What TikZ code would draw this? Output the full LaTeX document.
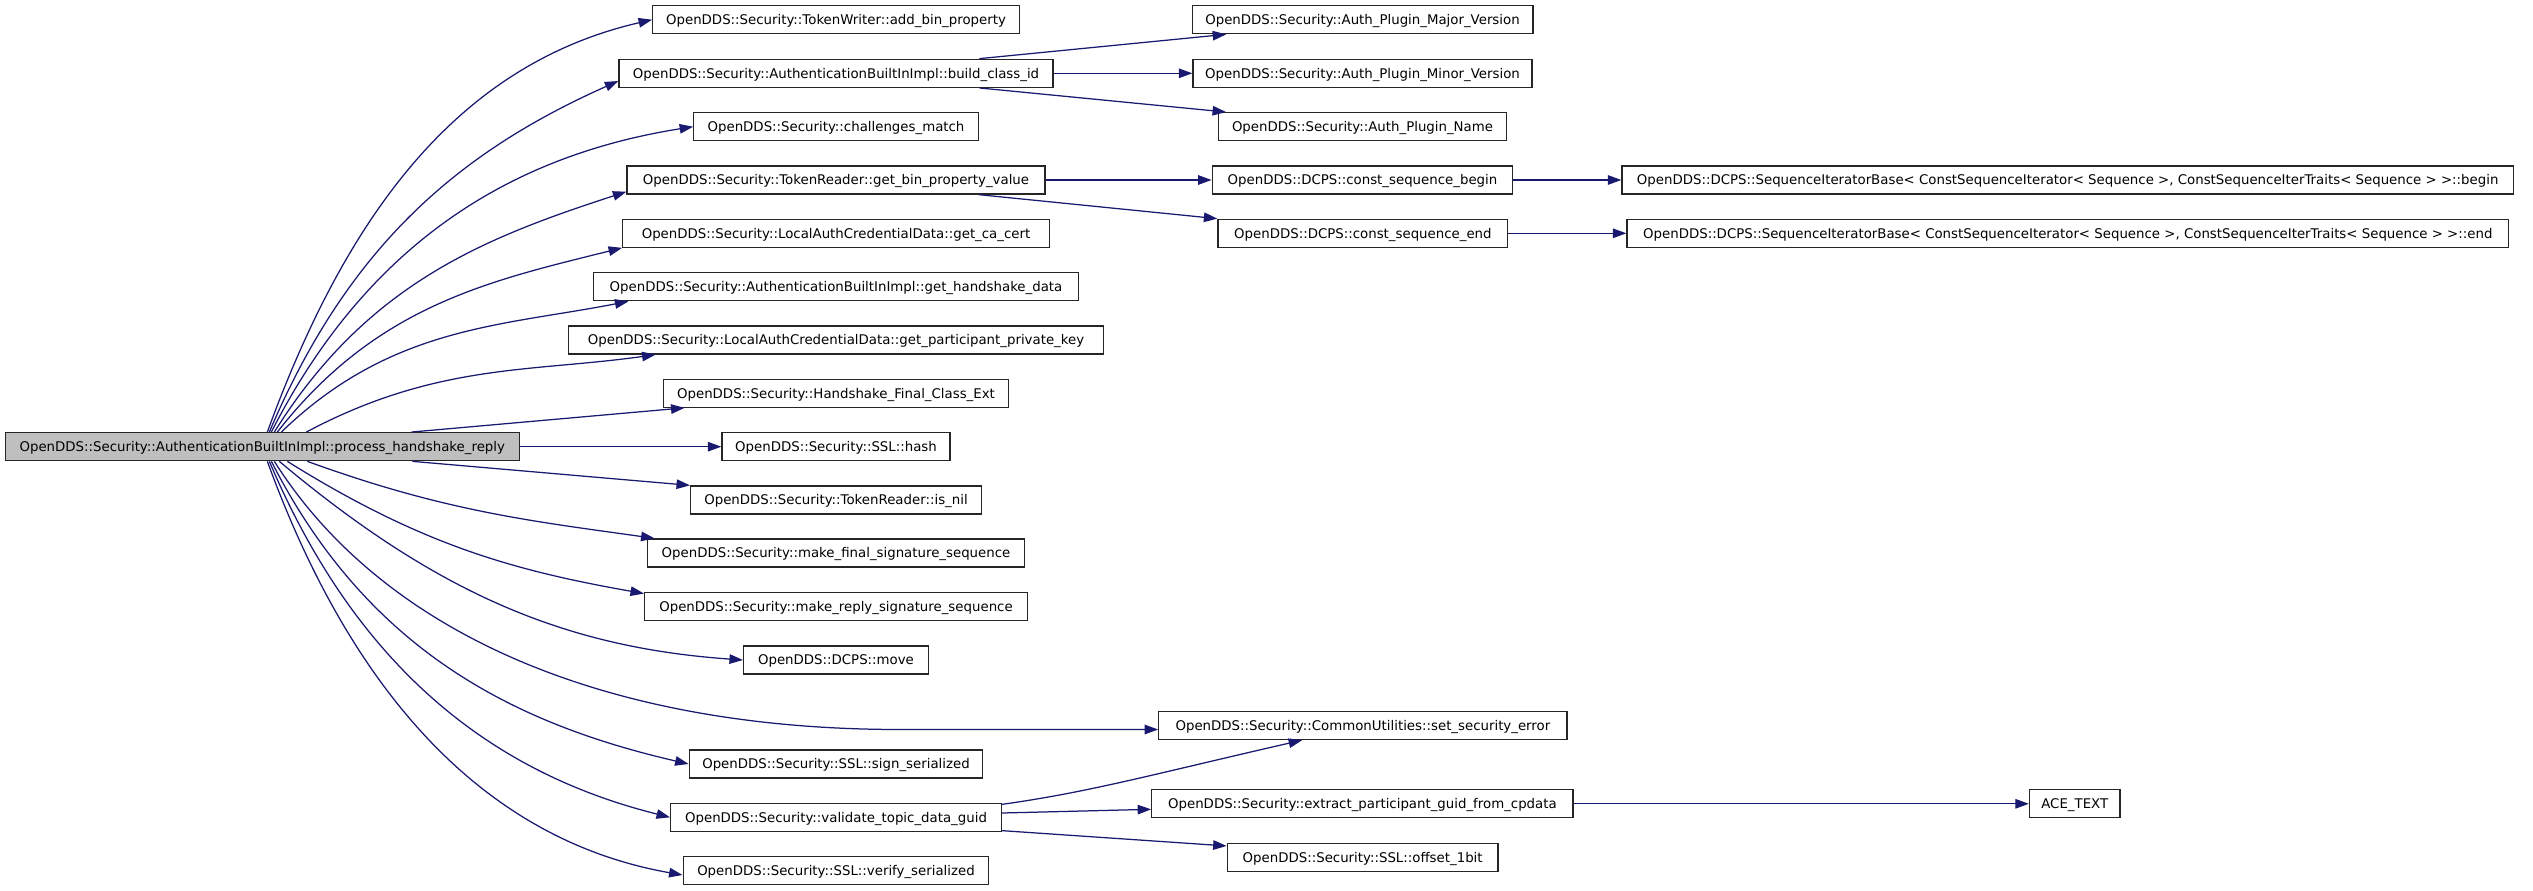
\documentclass[tikz,border=0pt]{standalone}
\usepackage{fontspec}
\setmainfont{DejaVu Sans}
\usetikzlibrary{arrows.meta,calc}
\definecolor{edgeblue}{HTML}{191970}
\tikzset{
  box/.style={draw=black!85, line width=1.3pt, fill=white, inner sep=0pt,
    minimum height=28pt, text height=11pt, text depth=1.3pt,
    font=\fontsize{13.33}{16}\selectfont, anchor=center},
  mainbox/.style={box, fill=black!25},
  edge/.style={draw=edgeblue, line width=1.25pt,
    -{Triangle[length=13.5pt,width=9.5pt]}, fill=none},
}
\begin{document}
\begin{tikzpicture}[x=1pt,y=1pt]
\useasboundingbox (0,0) rectangle (2533,-891);
\fill[white] (0,0) rectangle (2533,-891);
% nodes
\node[mainbox, minimum width=514.1pt] (main) at (262.25,-446.7) {OpenDDS::Security::AuthenticationBuiltInImpl::process\_handshake\_reply};
\node[box, minimum width=366.5pt] (n_add) at (836,-19.7) {OpenDDS::Security::TokenWriter::add\_bin\_property};
\node[box, minimum width=434pt] (n_build) at (836,-73.3) {OpenDDS::Security::AuthenticationBuiltInImpl::build\_class\_id};
\node[box, minimum width=284.4pt] (n_chal) at (836,-126.7) {OpenDDS::Security::challenges\_match};
\node[box, minimum width=418pt] (n_getbin) at (836,-180) {OpenDDS::Security::TokenReader::get\_bin\_property\_value};
\node[box, minimum width=426.5pt] (n_ca) at (836,-233.2) {OpenDDS::Security::LocalAuthCredentialData::get\_ca\_cert};
\node[box, minimum width=485pt] (n_hsd) at (836,-286.7) {OpenDDS::Security::AuthenticationBuiltInImpl::get\_handshake\_data};
\node[box, minimum width=535pt] (n_ppk) at (836,-340) {OpenDDS::Security::LocalAuthCredentialData::get\_participant\_private\_key};
\node[box, minimum width=345.6pt] (n_hfc) at (836,-393.2) {OpenDDS::Security::Handshake\_Final\_Class\_Ext};
\node[box, minimum width=228pt] (n_hash) at (836,-446.7) {OpenDDS::Security::SSL::hash};
\node[box, minimum width=290.7pt] (n_isnil) at (836,-500) {OpenDDS::Security::TokenReader::is\_nil};
\node[box, minimum width=377.6pt] (n_mfinal) at (836,-553) {OpenDDS::Security::make\_final\_signature\_sequence};
\node[box, minimum width=382.7pt] (n_mreply) at (836,-606.7) {OpenDDS::Security::make\_reply\_signature\_sequence};
\node[box, minimum width=184.8pt] (n_move) at (836,-660) {OpenDDS::DCPS::move};
\node[box, minimum width=293.5pt] (n_sign) at (836,-764) {OpenDDS::Security::SSL::sign\_serialized};
\node[box, minimum width=330.7pt] (n_valid) at (836,-817.3) {OpenDDS::Security::validate\_topic\_data\_guid};
\node[box, minimum width=305.6pt] (n_verify) at (836,-870.7) {OpenDDS::Security::SSL::verify\_serialized};
\node[box, minimum width=340.7pt] (n_major) at (1362.5,-19.7) {OpenDDS::Security::Auth\_Plugin\_Major\_Version};
\node[box, minimum width=339pt] (n_minor) at (1362.5,-73.3) {OpenDDS::Security::Auth\_Plugin\_Minor\_Version};
\node[box, minimum width=288.4pt] (n_name) at (1362.5,-126.7) {OpenDDS::Security::Auth\_Plugin\_Name};
\node[box, minimum width=300.5pt] (n_csb) at (1362.5,-180) {OpenDDS::DCPS::const\_sequence\_begin};
\node[box, minimum width=289.8pt] (n_cse) at (1362.9,-233.3) {OpenDDS::DCPS::const\_sequence\_end};
\node[box, minimum width=891.4pt] (n_begin) at (2067.7,-180) {OpenDDS::DCPS::SequenceIteratorBase< ConstSequenceIterator< Sequence >, ConstSequenceIterTraits< Sequence > >::begin};
\node[box, minimum width=881.6pt] (n_end) at (2067.8,-233.3) {OpenDDS::DCPS::SequenceIteratorBase< ConstSequenceIterator< Sequence >, ConstSequenceIterTraits< Sequence > >::end};
\node[box, minimum width=408.2pt] (n_sse) at (1362.9,-725.5) {OpenDDS::Security::CommonUtilities::set\_security\_error};
\node[box, minimum width=421.2pt] (n_extract) at (1362.4,-803.8) {OpenDDS::Security::extract\_participant\_guid\_from\_cpdata};
\node[box, minimum width=90.5pt] (n_ace) at (2074.75,-803.8) {ACE\_TEXT};
\node[box, minimum width=270.7pt] (n_off) at (1362.65,-857.2) {OpenDDS::Security::SSL::offset\_1bit};
% edges from main, upward
\draw[edge] ($(main.north west)+(262.8,0)$) to[out=70,in=193,out looseness=1.05,in looseness=0.9] (n_add.west);
\draw[edge] ($(main.north west)+(264.8,0)$) to[out=67,in=204,out looseness=1.05,in looseness=0.9] ($(n_build.west)+(0,-7.7)$);
\draw[edge] ($(main.north west)+(266.8,0)$) to[out=63,in=189,out looseness=1.05,in looseness=0.9] (n_chal.west);
\draw[edge] ($(main.north west)+(269.8,0)$) to[out=58,in=198,out looseness=1.05,in looseness=0.9] ($(n_getbin.west)+(0,-11.7)$);
\draw[edge] ($(main.north west)+(272.8,0)$) to[out=52,in=194,out looseness=1.05,in looseness=0.9] (n_ca.south west);
\draw[edge] ($(main.north west)+(276.8,0)$) to[out=44,in=191,out looseness=1.05,in looseness=0.9] ($(n_hsd.south west)+(35.6,0)$);
\draw[edge] ($(main.north west)+(301.8,0)$) to[out=28,in=188,out looseness=1.05,in looseness=0.9] ($(n_ppk.south west)+(87.7,0)$);
\draw[edge] ($(main.north west)+(406.8,0)$) -- ($(n_hfc.south west)+(22,0)$);
\draw[edge] (main.east) -- (n_hash.west);
% edges from main, downward
\draw[edge] ($(main.south west)+(407.8,0)$) -- (n_isnil.north west);
\draw[edge] ($(main.south west)+(302.8,0)$) to[out=-20,in=172,out looseness=1.05,in looseness=0.9] ($(n_mfinal.north west)+(8,0)$);
\draw[edge] ($(main.south west)+(282.8,0)$) to[out=-32,in=170,out looseness=1.05,in looseness=0.9] ($(n_mreply.north west)+(0,-1.5)$);
\draw[edge] ($(main.south west)+(274.8,0)$) to[out=-40,in=176,out looseness=1.05,in looseness=0.9] (n_move.west);
\draw[edge] ($(main.south west)+(269.8,0)$) .. controls (381,-630.3) and (600,-729.5) .. (900,-729.5) -- ($(n_sse.west)+(0,-4)$);
\draw[edge] ($(main.south west)+(266.8,0)$) to[out=-63,in=167,out looseness=1.05,in looseness=0.9] (n_sign.west);
\draw[edge] ($(main.south west)+(264.8,0)$) to[out=-67,in=166,out looseness=1.05,in looseness=0.9] (n_valid.west);
\draw[edge] ($(main.south west)+(262.8,0)$) to[out=-70,in=170,out looseness=1.05,in looseness=0.9] ($(n_verify.west)+(0,-4.3)$);
% second level
\draw[edge] ($(n_build.north east)+(-74.3,0)$) -- ($(n_major.south west)+(34.7,0)$);
\draw[edge] (n_build.east) -- (n_minor.west);
\draw[edge] ($(n_build.south east)+(-74.3,0)$) -- ($(n_name.north west)+(8.4,0)$);
\draw[edge] (n_getbin.east) -- (n_csb.west);
\draw[edge] ($(n_getbin.south east)+(-67,0)$) -- (n_cse.north west);
\draw[edge] (n_csb.east) -- (n_begin.west);
\draw[edge] (n_cse.east) -- (n_end.west);
\draw[edge] ($(n_valid.north east)+(0,-1.7)$) .. controls (1090,-792) and (1150,-775) .. ($(n_sse.south west)+(144,0)$);
\draw[edge] ($(n_valid.east)+(0,4.3)$) -- ($(n_extract.west)+(0,-5.5)$);
\draw[edge] ($(n_valid.south east)+(0,1.3)$) -- ($(n_off.north west)+(0,-3.4)$);
\draw[edge] (n_extract.east) -- (n_ace.west);
\end{tikzpicture}
\end{document}
